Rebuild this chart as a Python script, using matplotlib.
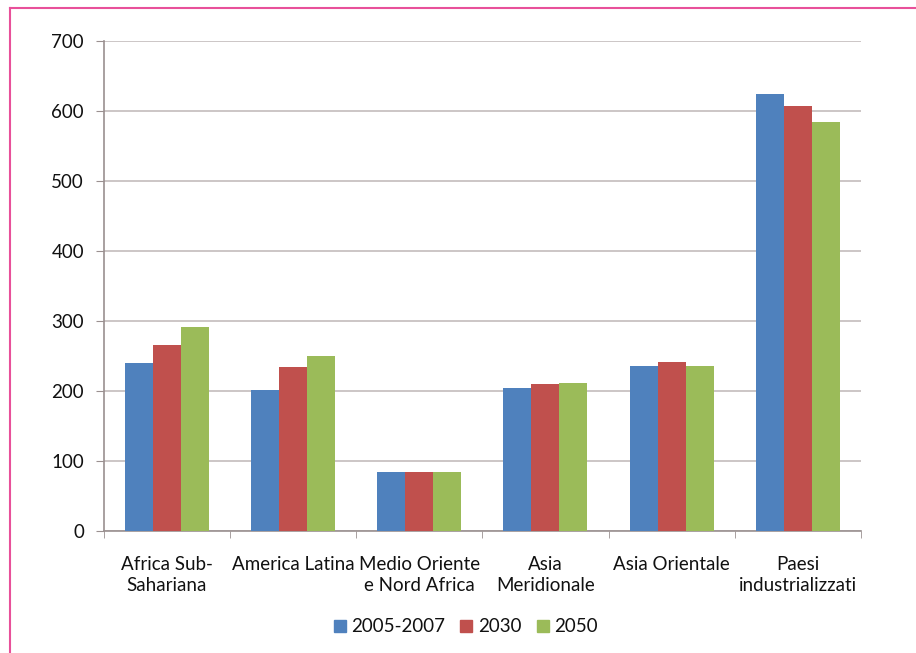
import numpy as np
import matplotlib
matplotlib.use("Agg")
import matplotlib.pyplot as plt
from matplotlib.lines import Line2D

categories = ["Africa Sub-\nSahariana", "America Latina", "Medio Oriente\ne Nord Africa",
              "Asia\nMeridionale", "Asia Orientale", "Paesi\nindustrializzati"]
series_names = ["2005-2007", "2030", "2050"]
values_2005 = [240, 201, 84, 205, 236, 624]
values_2030 = [266, 234, 84, 210, 241, 607]
values_2050 = [291, 250, 84, 212, 236, 585]
colors = ["#4F81BD", "#C0504D", "#9BBB59"]

plt.rcParams['font.family'] = ['Lato', 'DejaVu Sans']
fs = 13.5

fig = plt.figure(figsize=(9.16, 6.53), dpi=100)
ax = fig.add_axes([0.113, 0.1868, 0.827, 0.7504])

x = np.arange(len(categories))
bw = 0.222
for i, (vals, name) in enumerate(zip([values_2005, values_2030, values_2050], series_names)):
    ax.bar(x + (i - 1) * bw, vals, width=bw, color=colors[i], label=name, zorder=3)

ax.set_xlim(-0.5, len(categories) - 0.5)
ax.set_ylim(0, 700)
ax.set_yticks(range(0, 701, 100))
ax.yaxis.grid(True, color="#c4bcbc", linewidth=1.2, zorder=0)

ax.set_xticks(x)
ax.set_xticklabels(categories, fontsize=fs, color="#111111", linespacing=1.3)
ax.set_xticks(np.arange(-0.5, len(categories), 1), minor=True)
ax.tick_params(axis='x', which='major', length=0, pad=18)
ax.tick_params(axis='x', which='minor', length=5, color="#9a9090")
ax.tick_params(axis='y', length=6, color="#9a9090", labelsize=fs, labelcolor="#111111", pad=8)

for side in ["top", "right"]:
    ax.spines[side].set_visible(False)
for side in ["left", "bottom"]:
    ax.spines[side].set_color("#9a9090")
    ax.spines[side].set_linewidth(1.2)

handles = [Line2D([], [], marker='s', linestyle='none', markersize=8,
                  markerfacecolor=c, markeredgecolor=c) for c in colors]
leg = fig.legend(handles, series_names, loc='center', bbox_to_anchor=(0.507, 0.040),
                 ncol=3, frameon=False, fontsize=fs, handletextpad=0.15,
                 columnspacing=0.7, handlelength=0.9)
for t in leg.get_texts():
    t.set_color("#111111")

# pink frame on left and top
fig.add_artist(Line2D([9.5 / 916, 9.5 / 916], [0, 1 - 7.5 / 653], color="#e8509a",
                      linewidth=1.5, transform=fig.transFigure))
fig.add_artist(Line2D([9.5 / 916, 1], [1 - 7.5 / 653, 1 - 7.5 / 653], color="#e8509a",
                      linewidth=1.5, transform=fig.transFigure))

fig.savefig("out.png", dpi=100)
